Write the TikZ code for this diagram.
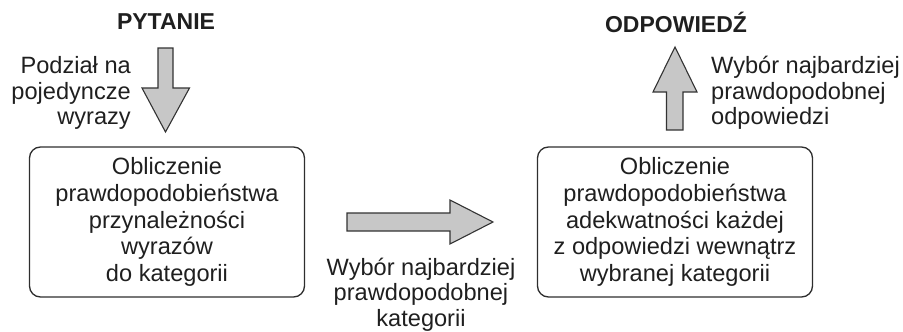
\documentclass[tikz,border=0pt]{standalone}
\usepackage{fontspec}
\setmainfont{Liberation Sans}
\begin{document}
\begin{tikzpicture}[x=1pt,y=-1pt,
  ink/.style={text=black!88},
  lbl/.style={ink,font=\fontsize{23.6}{25.6}\selectfont,inner sep=0pt},
  heading/.style={ink,font=\fontsize{23}{26}\selectfont\bfseries,inner sep=0pt},
  stagebox/.style={draw=black!82,line width=1.3pt,rounded corners=11pt,
    minimum width=275pt,minimum height=150pt,inner sep=0pt,ink,
    font=\fontsize{23.6}{26.7}\selectfont,align=center},
  blockarrow/.style={draw=black!80,fill=black!22,line width=1.1pt,line join=miter}]
\useasboundingbox (0,0) rectangle (903,332);

% headings
\node[heading] (q) at (166,22) {PYTANIE};
\node[heading] (a) at (676,22) {ODPOWIEDŹ};

% processing stages
\node[stagebox] (s1) at (167,222) {Obliczenie\\prawdopodobieństwa\\przynależności\\wyrazów\\do kategorii};
\node[stagebox] (s2) at (675,222) {Obliczenie\\prawdopodobieństwa\\adekwatności każdej\\z odpowiedzi wewnątrz\\wybranej kategorii};

% block arrows
\draw[blockarrow] (158,48) -- (173,48) -- (173,88) -- (189.5,88) -- (165.5,132)
  -- (142,88) -- (158,88) -- cycle;
\draw[blockarrow] (347,213) -- (450,213) -- (450,200) -- (493,222) -- (450,244)
  -- (450,231) -- (347,231) -- cycle;
\draw[blockarrow] (666.5,130) -- (683,130) -- (683,92) -- (697,92) -- (675,47)
  -- (653,92) -- (666.5,92) -- cycle;

% arrow labels
\node[lbl,align=right,anchor=east] (l1) at (131,93) {Podział na\\pojedyncze\\wyrazy};
\node[lbl,align=center] (l2) at (421,294.5) {Wybór najbardziej\\prawdopodobnej\\kategorii};
\node[lbl,align=left,anchor=west] (l3) at (711,93) {Wybór najbardziej\\prawdopodobnej\\odpowiedzi};
\end{tikzpicture}
\end{document}
